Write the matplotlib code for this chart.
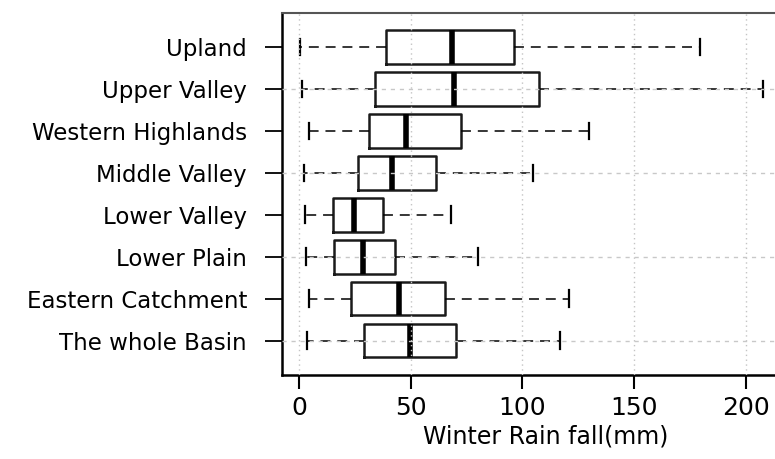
import matplotlib
matplotlib.use("Agg")
import matplotlib.pyplot as plt

# Winter rainfall summary (mm) per region, listed top to bottom as drawn
regions = [
    "Upland",
    "Upper Valley",
    "Western Highlands",
    "Middle Valley",
    "Lower Valley",
    "Lower Plain",
    "Eastern Catchment",
    "The whole Basin",
]
whisker_low = [0.6, 1.2, 4.5, 2.1, 2.5, 3.0, 4.3, 3.4]
q1 = [39.0, 34.2, 31.5, 26.6, 15.1, 15.8, 23.3, 29.3]
median = [68.7, 69.6, 47.9, 41.5, 24.8, 28.8, 44.8, 49.7]
q3 = [96.3, 107.5, 72.7, 61.5, 37.5, 42.9, 65.3, 70.3]
whisker_high = [179.7, 208.0, 130.0, 105.0, 68.1, 80.3, 121.0, 117.0]

x_ticks = [0, 50, 100, 150, 200]

plt.rcParams["font.family"] = ["DejaVu Sans"]

fig = plt.figure(figsize=(7.75, 4.59), dpi=100)
ax = fig.add_axes([0.3643, 0.183, 0.6792, 0.7893])

# bottom-up order for the horizontal box positions
stats = []
for i in reversed(range(len(regions))):
    stats.append(dict(
        label=regions[i],
        whislo=whisker_low[i],
        q1=q1[i],
        med=median[i],
        q3=q3[i],
        whishi=whisker_high[i],
    ))
positions = list(range(1, len(stats) + 1))

ax.bxp(
    stats,
    positions=positions,
    vert=False,
    widths=0.8,
    showfliers=False,
    boxprops=dict(color="#1a1a1a", linewidth=1.8),
    medianprops=dict(color="black", linewidth=4.0, solid_capstyle="butt"),
    whiskerprops=dict(color="black", linewidth=1.1, linestyle=(0, (6.5, 4.5))),
    capprops=dict(color="black", linewidth=1.6),
    capwidths=0.4,
)

ax.set_xlim(-7.5, 228.3)
ax.set_ylim(0.18, 8.82)

ax.set_xticks(x_ticks)
ax.set_xticklabels([str(t) for t in x_ticks], fontsize=18)
ax.set_yticks(positions)
ax.set_yticklabels([s["label"] for s in stats], fontsize=16.5)

ax.tick_params(axis="x", direction="out", length=10, width=1.5, pad=5)
ax.tick_params(axis="y", direction="out", length=12.5, width=1.3, pad=13)

# light grid drawn over the boxes
for x in x_ticks:
    ax.axvline(x, color="#c4c4c4", linewidth=1.0, linestyle=(0, (1, 2.5)), zorder=5)
for y in [1, 3, 5, 7]:
    ax.axhline(y, color="#c8c8c8", linewidth=1.0, linestyle=(0, (3, 3.5)), zorder=5)

ax.spines["right"].set_visible(False)
ax.spines["left"].set_linewidth(1.8)
ax.spines["left"].set_color("black")
ax.spines["bottom"].set_linewidth(1.8)
ax.spines["bottom"].set_color("black")
ax.spines["top"].set_linewidth(1.5)
ax.spines["top"].set_color("#555555")

ax.set_xlabel("Winter Rain fall(mm)", fontsize=17)
ax.xaxis.set_label_coords(0.5, -0.137)

fig.savefig("out.png", dpi=100)
